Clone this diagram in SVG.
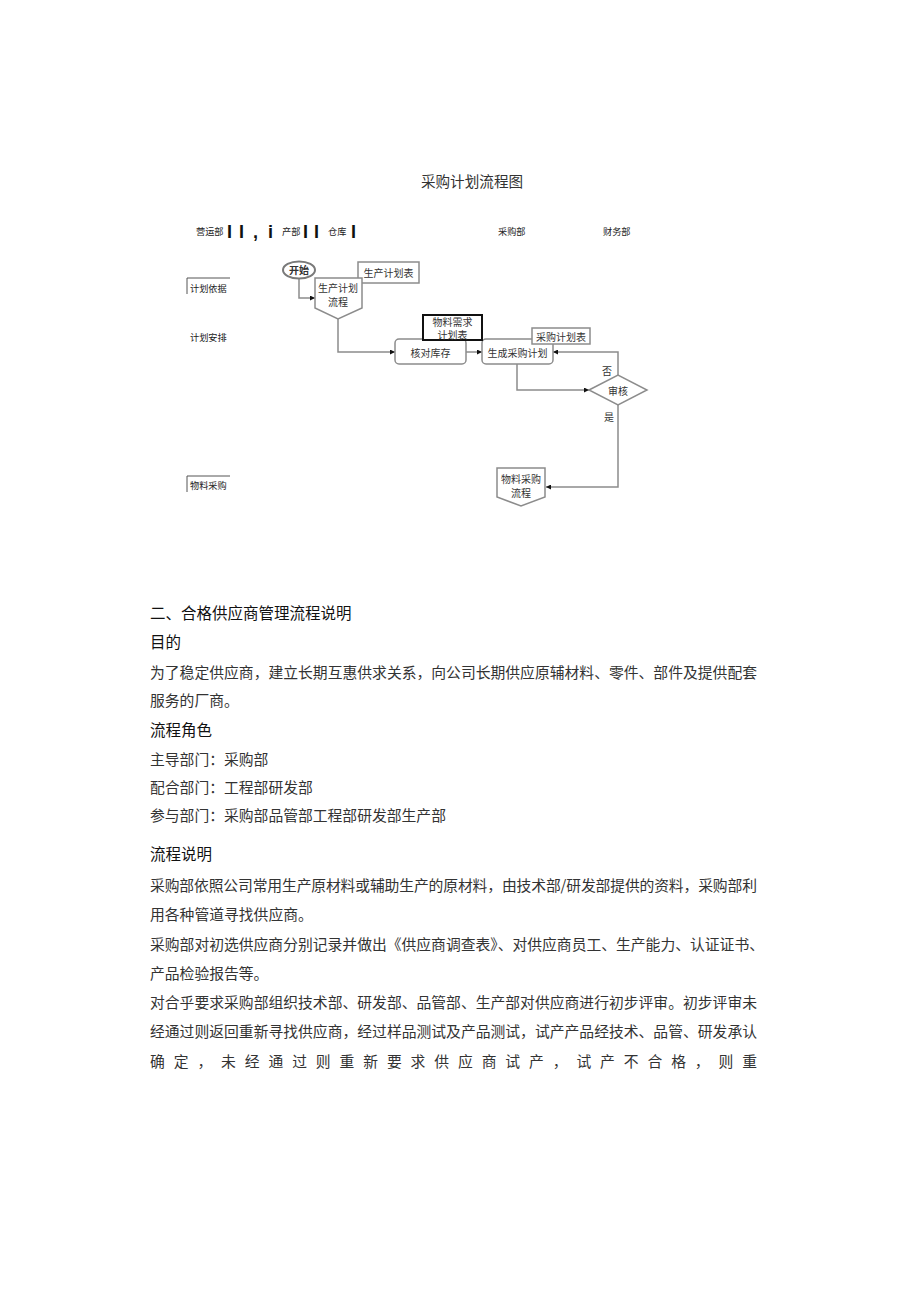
<svg xmlns="http://www.w3.org/2000/svg" width="920" height="1301" viewBox="0 0 920 1301">
<style>
.t{font-family:"Noto Sans CJK SC","Noto Sans",sans-serif;dominant-baseline:central}
.fc{font-size:10px;fill:#333;text-anchor:middle}
.lab{font-size:9.2px;fill:#222}
.node{fill:#fff;stroke:#8c8c8c;stroke-width:1.5}
.conn{fill:none;stroke:#8c8c8c;stroke-width:1.5}
.body{font-size:14.8px;fill:#333}
.h{font-size:15.5px;fill:#111}
.bar{font-family:"Liberation Sans",sans-serif;font-weight:bold;font-size:18px;fill:#111}
.frame{fill:none;stroke:#555;stroke-width:1}
</style>
<defs>
<marker id="arr" viewBox="0 0 6 6" refX="6" refY="3" markerWidth="5" markerHeight="5" orient="auto" markerUnits="userSpaceOnUse">
<path d="M0,0 L6,3 L0,6 Z" fill="#111"/>
</marker>
</defs>
<rect width="920" height="1301" fill="#fff"/>

<text class="t" x="472" y="180" font-size="14.6" fill="#333" text-anchor="middle">采购计划流程图</text>

<g id="header">
<text class="t lab" x="196" y="231">营运部</text>
<text class="bar" x="227" y="238">I</text>
<text class="bar" x="239" y="238">I</text>
<text class="bar" x="253" y="238">,</text>
<text class="bar" x="268" y="238">i</text>
<text class="t lab" x="282" y="231">产部</text>
<text class="bar" x="303" y="238">I</text>
<text class="bar" x="314" y="238">I</text>
<text class="t lab" x="328" y="231">仓库</text>
<text class="bar" x="351" y="238">I</text>
<text class="t lab" x="498" y="231">采购部</text>
<text class="t lab" x="603" y="231">财务部</text>
</g>

<g id="lanes">
<path class="frame" d="M187,294 V278 H230"/>
<text class="t lab" x="190" y="288">计划依据</text>
<text class="t lab" x="190" y="337">计划安排</text>
<path class="frame" d="M187,492 V476 H230"/>
<text class="t lab" x="190" y="485">物料采购</text>
</g>

<g id="connectors">
<path class="conn" d="M299,278 V298 H315" marker-end="url(#arr)"/>
<path class="conn" d="M338,319 V352 H395" marker-end="url(#arr)"/>
<path class="conn" d="M466,352 H482" marker-end="url(#arr)"/>
<path class="conn" d="M517,364 V390 H589" marker-end="url(#arr)"/>
<path class="conn" d="M618,375 V352 H553" marker-end="url(#arr)"/>
<path class="conn" d="M618,405 V487 H546" marker-end="url(#arr)"/>
<text class="t fc" x="607" y="370">否</text>
<text class="t fc" x="609" y="416">是</text>
</g>

<g id="start">
<ellipse cx="299" cy="270" rx="16" ry="8.5" fill="#fff" stroke="#7a7a7a" stroke-width="2"/>
<text class="t fc" x="299" y="269" font-weight="bold" fill="#222">开始</text>
</g>

<g id="prod-plan-table">
<rect class="node" x="358" y="262" width="61" height="21"/>
<text class="t fc" x="388.5" y="272.5">生产计划表</text>
</g>

<g id="prod-plan-flow">
<polygon class="node" points="315,278 362,278 362,308 338,319 315,308"/>
<text class="t fc" x="338" y="287">生产计划<tspan x="338" dy="14">流程</tspan></text>
</g>

<g id="check-stock">
<rect class="node" x="395" y="339" width="71" height="25" rx="4"/>
<text class="t fc" x="430.5" y="352" font-size="10.5">核对库存</text>
</g>

<g id="gen-plan">
<rect class="node" x="482" y="339" width="71" height="25" rx="4"/>
<text class="t fc" x="517.5" y="352">生成采购计划</text>
</g>

<g id="material-req-table">
<rect x="423" y="315" width="59" height="25" fill="#fff" stroke="#111" stroke-width="2"/>
<text class="t fc" x="452.5" y="321" font-size="8.5">物料需求<tspan x="452.5" dy="13">计划表</tspan></text>
</g>

<g id="purchase-plan-table">
<rect class="node" x="532" y="328" width="58" height="16"/>
<text class="t fc" x="561" y="336">采购计划表</text>
</g>

<g id="review">
<polygon class="node" points="589,390 618,375 647,390 618,405"/>
<text class="t fc" x="618" y="390">审核</text>
</g>

<g id="material-purchase-flow">
<polygon class="node" points="497,468 545,468 545,497 521,506 497,497"/>
<text class="t fc" x="521" y="478">物料采购<tspan x="521" dy="14">流程</tspan></text>
</g>

<g id="text">
<text class="t h" x="150" y="612">二、合格供应商管理流程说明</text>
<text class="t h" x="150" y="641" font-size="16">目的</text>
<text class="t body" x="150" y="671" textLength="607" lengthAdjust="spacing">为了稳定供应商，建立长期互惠供求关系，向公司长期供应原辅材料、零件、部件及提供配套</text>
<text class="t body" x="150" y="699">服务的厂商。</text>
<text class="t h" x="150" y="729" font-size="16">流程角色</text>
<text class="t body" x="150" y="758">主导部门：采购部</text>
<text class="t body" x="150" y="786">配合部门：工程部研发部</text>
<text class="t body" x="150" y="814">参与部门：采购部品管部工程部研发部生产部</text>
<text class="t h" x="150" y="853" font-size="16">流程说明</text>
<text class="t body" x="150" y="884" textLength="607" lengthAdjust="spacing">采购部依照公司常用生产原材料或辅助生产的原材料，由技术部/研发部提供的资料，采购部利</text>
<text class="t body" x="150" y="913">用各种管道寻找供应商。</text>
<text class="t body" x="150" y="943" textLength="614" lengthAdjust="spacing">采购部对初选供应商分别记录并做出《供应商调查表》、对供应商员工、生产能力、认证证书、</text>
<text class="t body" x="150" y="972">产品检验报告等。</text>
<text class="t body" x="150" y="1001" textLength="607" lengthAdjust="spacing">对合乎要求采购部组织技术部、研发部、品管部、生产部对供应商进行初步评审。初步评审未</text>
<text class="t body" x="150" y="1030" textLength="607" lengthAdjust="spacing">经通过则返回重新寻找供应商，经过样品测试及产品测试，试产产品经技术、品管、研发承认</text>
<text class="t body" x="150" y="1060" textLength="607" lengthAdjust="spacing">确定，未经通过则重新要求供应商试产，试产不合格，则重</text>
</g>
</svg>
